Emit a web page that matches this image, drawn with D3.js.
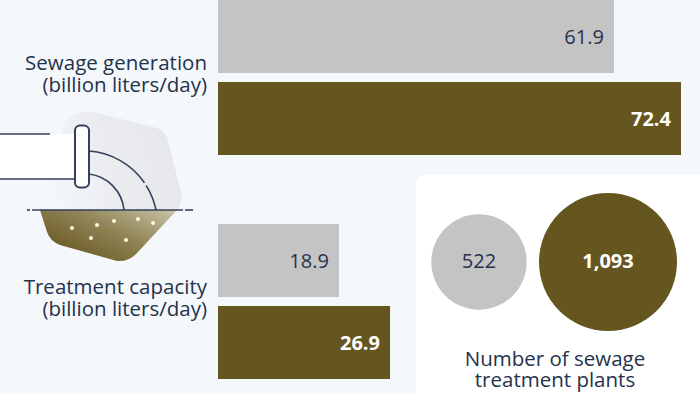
<!DOCTYPE html>
<html><head><meta charset="utf-8">
<script src="https://cdn.jsdelivr.net/npm/d3@7"></script>
<style>html,body{margin:0;padding:0;background:#f4f8fb}svg{display:block}text{font-family:"Open Sans",sans-serif}</style>
</head><body><svg id="c" width="700" height="394"></svg>
<script>
const metrics = ["Sewage generation", "Treatment capacity"];
const metricUnits = ["(billion liters/day)", "(billion liters/day)"];
const periods = ["earlier", "later"];
const earlierValues = [61.9, 18.9];
const laterValues = [72.4, 26.9];
const plantValues = [522, 1093];
const plantTitle = ["Number of sewage", "treatment plants"];

const INK = "#24324d", GREY = "#c4c4c4", BROWN = "#65561f";
const svg = d3.select("#c");
const fmt = d3.format(",");

const x = d3.scaleLinear().domain([0, 72.4]).range([218, 681]);
const yGroup = d3.scaleOrdinal().domain(metrics).range([0, 224]);
const yInner = d3.scaleOrdinal().domain(periods).range([0, 82]);
const barH = 73;
const rows = metrics.flatMap((m, i) => [
  {m, p: "earlier", v: earlierValues[i]},
  {m, p: "later", v: laterValues[i]}
]);

svg.selectAll("rect.bar").data(rows).join("rect").attr("class", "bar")
  .attr("x", x(0)).attr("y", d => yGroup(d.m) + yInner(d.p))
  .attr("width", d => x(d.v) - x(0)).attr("height", barH)
  .attr("fill", d => d.p === "earlier" ? GREY : BROWN);

svg.selectAll("text.val").data(rows).join("text").attr("class", "val")
  .attr("x", d => x(d.v) - 10).attr("y", d => yGroup(d.m) + yInner(d.p) + barH / 2)
  .attr("dy", "0.35em").attr("text-anchor", "end").attr("font-size", 20)
  .attr("font-weight", d => d.p === "earlier" ? 400 : 700)
  .attr("fill", d => d.p === "earlier" ? INK : "#fff")
  .text(d => d.v.toFixed(1));

const labelY = [70, 294];
metrics.forEach((m, i) => {
  const t = svg.append("text").attr("text-anchor", "end").attr("font-size", 20.5).attr("fill", INK);
  t.append("tspan").attr("x", 207).attr("y", labelY[i]).text(m);
  t.append("tspan").attr("x", 207).attr("y", labelY[i] + 22).text(metricUnits[i]);
});

// plants card
svg.append("path").attr("fill", "#fff")
  .attr("d", "M416 394V187Q416 175 428 175H700V394Z");
const r = d3.scaleSqrt().domain([0, 1093]).range([0, 69]);
const cx = d3.scaleOrdinal().domain(plantValues).range([479, 608]);
svg.selectAll("circle.plant").data(plantValues).join("circle").attr("class", "plant")
  .attr("cx", d => cx(d)).attr("cy", 262).attr("r", d => r(d))
  .attr("fill", (d, i) => i ? BROWN : GREY);
svg.selectAll("text.plant").data(plantValues).join("text").attr("class", "plant")
  .attr("x", d => cx(d)).attr("y", 261).attr("dy", "0.35em").attr("text-anchor", "middle")
  .attr("font-size", 20).attr("font-weight", (d, i) => i ? 700 : 400)
  .attr("fill", (d, i) => i ? "#fff" : INK).text(d => fmt(d));
const pt = svg.append("text").attr("text-anchor", "middle").attr("font-size", 20.5).attr("fill", INK);
plantTitle.forEach((s, i) => pt.append("tspan").attr("x", 555).attr("y", 366 + i * 21).text(s));

// pipe illustration
const defs = svg.append("defs");
const g1 = defs.append("linearGradient").attr("id", "hex").attr("x1", 0).attr("x2", 1).attr("y1", 0.5).attr("y2", 0.3);
g1.append("stop").attr("offset", 0).attr("stop-color", "#f4f8fb");
g1.append("stop").attr("offset", 0.45).attr("stop-color", "#ebecef");
g1.append("stop").attr("offset", 1).attr("stop-color", "#e6e7ea");
const g2 = defs.append("linearGradient").attr("id", "soil").attr("x1", 0.1).attr("x2", 1).attr("y1", 0.7).attr("y2", 0);
g2.append("stop").attr("offset", 0).attr("stop-color", "#6d5d27");
g2.append("stop").attr("offset", 0.45).attr("stop-color", "#8f8355");
g2.append("stop").attr("offset", 1).attr("stop-color", "#cac4a8");
const ic = svg.append("g");
ic.append("path").attr("fill", "url(#hex)")
  .attr("d", "M40 210L64 125Q68 116 78 113L90 111L157 128Q164 131 167 137L181 192Q183 200 178 210Z");
ic.append("path").attr("fill", "url(#soil)")
  .attr("d", "M40 210H177L137 253Q129 262 117 261L60 245Q50 241 47 232Z");
ic.append("rect").attr("x", 0).attr("y", 134).attr("width", 76).attr("height", 45).attr("fill", "#fff");
const line = p => ic.append("path").attr("d", p).attr("fill", "none").attr("stroke", "#33415c").attr("stroke-width", 1.6);
line("M0 134H50");
line("M0 179H75");
line("M89 151A74 74 0 0 1 156 210").attr("stroke-dasharray", "66 3 60");
line("M89 174A40 40 0 0 1 124 210");
line("M32 210H183");
line("M27 210H30");
line("M185 210H193");
ic.append("rect").attr("x", 75).attr("y", 125.5).attr("width", 14).attr("height", 62).attr("rx", 5)
  .attr("fill", "#fff").attr("stroke", "#33415c").attr("stroke-width", 2);
[[72,228],[97,225],[114,221],[138,219],[153,223],[91,238],[126,240]].forEach(([a, b]) =>
  ic.append("circle").attr("cx", a).attr("cy", b).attr("r", 2).attr("fill", "#fdf8e0"));
</script></body></html>
